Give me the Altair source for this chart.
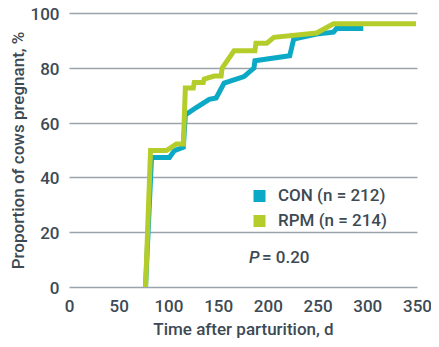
import altair as alt
import pandas as pd

# Series data
con_day = [77, 83, 101, 106, 115, 117, 128, 141, 148, 156, 176, 186, 187, 222, 226, 249, 266, 269, 296]
con_pct = [0, 47.3, 47.3, 49.8, 51.0, 62.8, 65.5, 68.5, 69.0, 74.4, 76.8, 79.9, 82.6, 84.4, 90.5, 92.3, 93.0, 94.3, 94.3]

rpm_day = [77, 82, 98, 108, 115, 117, 125, 126, 135, 136, 146, 153, 154, 166, 187, 188, 199, 206, 249, 266, 349]
rpm_pct = [0, 49.8, 49.8, 52.2, 52.2, 72.6, 72.6, 74.6, 74.6, 75.9, 77.0, 77.0, 79.9, 86.2, 86.2, 89.0, 89.0, 91.1, 92.7, 96.1, 96.1]

labels = ["CON (n = 212)", "RPM (n = 214)"]
colors = ["#0BA9C6", "#B5CD2B"]

x_ticks = [0, 50, 100, 150, 200, 250, 300, 350]
y_ticks = [0, 20, 40, 60, 80, 100]

annot_x = [181]
annot_y = [10.5]

rows = []
for i, (d, p) in enumerate(zip(con_day, con_pct)):
    rows.append({"day": d, "pct": p, "group": labels[0], "ord": i})
for i, (d, p) in enumerate(zip(rpm_day, rpm_pct)):
    rows.append({"day": d, "pct": p, "group": labels[1], "ord": i})
df = pd.DataFrame(rows)

TXT = "#3D4A54"
FONT = "Roboto"
FW = 500

lines = alt.Chart(df).mark_line(strokeWidth=5, strokeJoin="miter").encode(
    x=alt.X("day:Q", scale=alt.Scale(domain=[0, 350], nice=False),
            axis=alt.Axis(values=x_ticks, title="Time after parturition, d", grid=False,
                          labelFlush=False)),
    y=alt.Y("pct:Q", scale=alt.Scale(domain=[0, 100], nice=False),
            axis=alt.Axis(values=y_ticks, title="Proportion of cows pregnant, %")),
    color=alt.Color("group:N", scale=alt.Scale(domain=labels, range=colors),
                    legend=alt.Legend(title=None, orient="none", legendX=182, legendY=174,
                                      symbolType="square", symbolSize=36, symbolStrokeWidth=6,
                                      symbolOpacity=1, labelFontSize=17, labelColor=TXT,
                                      labelFont=FONT, labelFontWeight=FW, labelOffset=10,
                                      rowPadding=7, padding=0, clipHeight=18)),
    order="ord:Q",
)

adf = pd.DataFrame({"x": annot_x, "y": annot_y})
p_text = alt.Chart(adf).mark_text(text="P", font=FONT, fontSize=17, fontStyle="italic",
                                  fontWeight=FW, align="left", baseline="middle",
                                  color=TXT).encode(x="x:Q", y="y:Q")
v_text = alt.Chart(adf).mark_text(text="= 0.20", font=FONT, fontSize=17, fontWeight=FW,
                                  align="left", baseline="middle", color=TXT, dx=13).encode(
    x="x:Q", y="y:Q")

chart = alt.layer(lines, p_text, v_text).properties(
    width=348, height=274,
    autosize=alt.AutoSizeParams(type="none"),
    padding={"left": 61, "top": 5, "right": 14, "bottom": 52},
).configure_view(stroke=None).configure_axis(
    domain=False, ticks=False, gridColor="#9AA4AD", gridWidth=1.5, gridOpacity=1,
    labelFont=FONT, labelFontSize=17, labelColor=TXT, labelFontWeight=FW,
    titleFont=FONT, titleFontSize=17, titleColor=TXT, titleFontWeight=FW,
).configure_axisX(labelPadding=11, titlePadding=7).configure_axisY(
    labelPadding=10, titlePadding=3, labelOffset=1.5)

chart.save("out.html", embed_options={"renderer": "svg", "actions": False})
